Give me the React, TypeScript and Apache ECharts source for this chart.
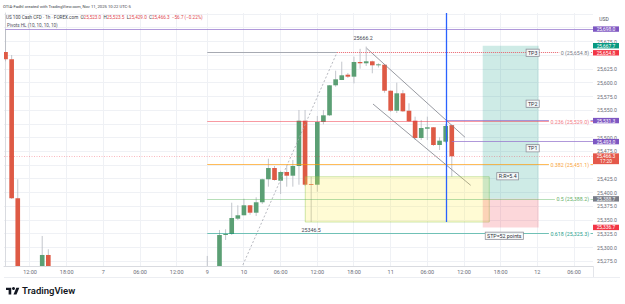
import React, { useEffect, useRef } from "react";
import * as echarts from "echarts";

const FONT = 'Roboto, "Liberation Sans", Arial, sans-serif';

// ---- candle data (bar slot index on the trading-hours axis) ----
const barIndex = [0, 1, 2, 6, 7, 33, 35, 36, 37, 38, 39, 40, 41, 42, 43, 44, 45, 46, 47, 48, 49, 50, 51, 52, 53, 54, 55, 56, 57, 58, 59, 60, 61, 62, 63, 64, 65, 66, 67, 68, 69, 70, 71, 72, 73];
const barOpen = [25656.2, 25642.9, 25389.8, 25228.0, 25286.5, 25236.0, 25250.0, 25322.9, 25324.7, 25352.6, 25358.8, 25377.0, 25363.5, 25382.5, 25424.4, 25444.9, 25421.8, 25437.7, 25430.9, 25448.6, 25531.1, 25415.8, 25414.5, 25528.7, 25540.9, 25595.6, 25605.2, 25614.9, 25611.3, 25638.0, 25635.7, 25639.3, 25632.0, 25633.1, 25585.7, 25549.3, 25581.0, 25549.3, 25531.1, 25499.6, 25516.5, 25519.1, 25486.8, 25492.9, 25523.0];
const barHigh = [25698.0, 25650.8, 25424.4, 25321.1, 25296.9, 25284.7, 25332.0, 25333.3, 25381.7, 25377.0, 25389.0, 25377.5, 25391.6, 25425.5, 25461.9, 25448.6, 25440.0, 25448.6, 25459.5, 25550.6, 25550.6, 25429.1, 25539.7, 25550.6, 25596.0, 25622.2, 25638.6, 25618.0, 25647.7, 25662.0, 25666.2, 25640.5, 25635.7, 25634.0, 25586.5, 25600.3, 25586.9, 25562.8, 25538.4, 25532.4, 25538.4, 25519.5, 25500.9, 25525.1, 25523.5];
const barLow = [25639.3, 25388.5, 25170.0, 25215.0, 25232.0, 25225.0, 25244.0, 25313.8, 25322.9, 25350.2, 25358.8, 25359.9, 25357.5, 25379.4, 25410.9, 25421.8, 25397.6, 25410.9, 25410.9, 25414.5, 25412.0, 25346.5, 25401.8, 25524.5, 25539.7, 25593.0, 25605.2, 25609.0, 25599.2, 25625.8, 25630.7, 25617.5, 25628.0, 25582.1, 25547.0, 25545.1, 25547.2, 25528.7, 25496.0, 25496.0, 25496.0, 25485.0, 25477.7, 25491.0, 25429.0];
const barClose = [25642.9, 25389.8, 25190.0, 25286.5, 25240.0, 25248.0, 25322.9, 25324.7, 25353.9, 25358.8, 25377.0, 25363.5, 25382.5, 25424.4, 25444.9, 25423.1, 25437.7, 25430.9, 25448.6, 25531.1, 25414.5, 25414.5, 25528.7, 25540.9, 25595.6, 25606.5, 25613.8, 25611.3, 25638.0, 25635.7, 25639.3, 25632.0, 25633.8, 25585.7, 25549.3, 25581.0, 25548.2, 25530.0, 25499.6, 25517.8, 25519.1, 25486.8, 25494.7, 25521.4, 25466.3];

// ---- axes ----
const xTickIndex = [4, 10, 16, 22, 28, 33, 39, 45, 51, 57, 63, 69, 75, 81, 87, 93];
const xTickLabels = ["12:00", "18:00", "7", "06:00", "12:00", "9", "10", "06:00", "12:00", "18:00", "11", "06:00", "12:00", "18:00", "12", "06:00"];
const yGridValues = [25275, 25300, 25325, 25350, 25375, 25400, 25425, 25450, 25475, 25500, 25525, 25550, 25575, 25600, 25625, 25650, 25675, 25700, 25725];
// labels that are not hidden behind the coloured price tags
const yLabelValues = [25275, 25300, 25325, 25350, 25375, 25400, 25425, 25475, 25500, 25550, 25575, 25600, 25625, 25675];

// ---- fibonacci retracement ----
const fibLevels = ["0", "0.236", "0.382", "0.5", "0.618"];
const fibPrices = [25654.8, 25529.0, 25451.1, 25388.2, 25325.3];
const fibOnePrice = 25121.8;
const fibStartIndex = 33;
const fibEndIndex = 54.2;

// ---- pivots HL ----
const pivotPrices = [25698.0, 25531.3, 25493.0];
const pivotStart = [0, 72.17, 73];

// ---- drawings ----
const channelUpper = [[59.08, 25663.0], [75.16, 25500.9]];
const channelLower = [[60.11, 25561.5], [76.09, 25413.4]];
const zoneIndex = [49.03, 79.13];
const zonePrices = [25429.0, 25346.5];
const blueLineIndex = 72.17;
const positionIndex = [78.06, 87.22];
const targetPrice = 25667.7;
const entryPrice = 25388.7;
const stopPrice = 25336.7;
const noteTexts = ["TP3", "TP2", "TP1", "R:R=5.4", "STP=52 points"];
const noteIndex = [86.23, 86.23, 86.23, 82.14, 81.59];
const notePrices = [25654.8, 25562.1, 25480.8, 25429.8, 25321.6];
const lastPrice = 25466.3;
const hiLabel = { index: 58.5, price: 25666.2 };
const loLabel = { index: 50, price: 25346.5 };

const UP = "#5b9f74";
const DOWN = "#de5a45";
const WICK = "#b4b7bf";

const fmt = (v: number) =>
  v.toLocaleString("en-US", { minimumFractionDigits: 1, maximumFractionDigits: 1 });

export default function App() {
  const ref = useRef<HTMLDivElement>(null);
  useEffect(() => {
    const el = ref.current!;
    const chart = echarts.init(el, null, { renderer: "svg" });
    const X_MIN = -0.25, X_MAX = 96.1, Y_MIN = 25266.4, Y_MAX = 25727.3;
    const data = barIndex.map((x, i) => [x, barOpen[i], barClose[i], barLow[i], barHigh[i]]);

    chart.setOption({
      animation: false,
      backgroundColor: "#ffffff",
      textStyle: { fontFamily: FONT },
      grid: { left: 4, right: 32, top: 13, bottom: 38 },
      xAxis: {
        type: "value",
        min: X_MIN,
        max: X_MAX,
        axisLine: { show: true, lineStyle: { color: "#d9dbe0" } },
        axisTick: { show: false, customValues: xTickIndex },
        splitLine: { show: false },
        axisLabel: {
          customValues: xTickIndex,
          formatter: (v: number) => {
            const k = xTickIndex.indexOf(Math.round(v));
            return k >= 0 ? xTickLabels[k] : "";
          },
          color: "#6a6d78",
          fontSize: 5.5,
          fontFamily: FONT,
          margin: 3,
        },
      },
      yAxis: {
        type: "value",
        position: "right",
        min: Y_MIN,
        max: Y_MAX,
        axisLine: { show: true, lineStyle: { color: "#d9dbe0" } },
        axisTick: { show: false, customValues: yLabelValues },
        splitLine: { show: false },
        axisLabel: {
          customValues: yLabelValues,
          formatter: (v: number) => fmt(v),
          color: "#6a6d78",
          fontSize: 5.2,
          lineHeight: 4.6,
          fontFamily: FONT,
          margin: 4,
        },
      },
      series: [
        {
          type: "custom",
          name: "candles",
          clip: true,
          z: 3,
          data,
          encode: { x: 0, y: [1, 2, 3, 4] },
          renderItem: (params: any, api: any) => {
            const x = api.value(0), o = api.value(1), c = api.value(2), l = api.value(3), h = api.value(4);
            const pO = api.coord([x, o]);
            const pC = api.coord([x, c]);
            const pL = api.coord([x, l]);
            const pH = api.coord([x, h]);
            const bw = api.size([1, 0])[0] * 0.76;
            const col = c >= o ? UP : DOWN;
            const top = Math.min(pO[1], pC[1]);
            const hh = Math.max(Math.abs(pO[1] - pC[1]), 0.8);
            return {
              type: "group",
              children: [
                { type: "line", shape: { x1: pO[0], y1: pH[1], x2: pO[0], y2: pL[1] }, style: { stroke: WICK, lineWidth: 0.8 } },
                { type: "rect", shape: { x: pO[0] - bw / 2, y: top, width: bw, height: hh }, style: { fill: col } },
              ],
            };
          },
        },
        {
          type: "line",
          data: [[fibStartIndex, fibOnePrice], [fibEndIndex, fibPrices[0]]],
          symbol: "none",
          silent: true,
          z: 6,
          lineStyle: { color: "#a3a6ae", width: 0.8, type: [2, 2] },
        },
        {
          type: "line",
          data: channelUpper,
          symbol: "none",
          silent: true,
          z: 6,
          lineStyle: { color: "#7d8089", width: 0.8 },
        },
        {
          type: "line",
          data: channelLower,
          symbol: "none",
          silent: true,
          z: 6,
          lineStyle: { color: "#7d8089", width: 0.8 },
        },
      ],
    });

    const P = (x: number, v: number) => chart.convertToPixel({ gridIndex: 0 }, [x, v]) as number[];
    const gx = (x: number) => P(x, Y_MIN)[0];
    const gy = (v: number) => P(X_MIN, v)[1];
    const L = gx(X_MIN), R = gx(X_MAX), T = gy(Y_MAX), B = gy(Y_MIN);
    const cr = (v: number) => Math.round(v - 0.5) + 0.5;

    const els: any[] = [];
    const hline = (x1: number, x2: number, y: number, stroke: string, z: number, extra: any = {}) =>
      els.push({ type: "line", silent: true, z, shape: { x1, y1: cr(y), x2, y2: cr(y) }, style: { stroke, lineWidth: 1, ...extra } });
    const vline = (x: number, y1: number, y2: number, stroke: string, z: number, extra: any = {}) =>
      els.push({ type: "line", silent: true, z, shape: { x1: cr(x), y1, x2: cr(x), y2 }, style: { stroke, lineWidth: 1, ...extra } });

    // grid
    yGridValues.forEach((v) => hline(L, R, gy(v), "#eff1f5", 0));
    xTickIndex.forEach((i) => vline(gx(i), T, B, "#eff1f5", 0));
    // frame of the time scale row
    vline(R, B, B + 11.5, "#e3e5ea", 1);
    hline(L, R + 27, B + 11.5, "#eceef2", 1);

    // last price line
    hline(L, R, gy(lastPrice), "rgba(242,54,69,0.35)", 9, { lineDash: [1, 1.5] });

    // pivots
    pivotPrices.forEach((p, k) => hline(gx(pivotStart[k]), R, gy(p), "rgba(149,117,205,0.75)", 9));

    // fib
    const fibLine = ["#a7aab2", "rgba(242,54,69,0.5)", "rgba(255,152,0,0.65)", "rgba(76,175,80,0.4)", "rgba(8,153,129,0.55)"];
    const fibText = ["#787b86", "#f27a85", "#f7a43c", "#66b06a", "#27a08c"];
    fibPrices.forEach((p, k) => {
      hline(gx(fibStartIndex), k === 0 ? gx(fibEndIndex) : R, gy(p), fibLine[k], 9);
    });
    // TP3 dotted line
    hline(gx(fibEndIndex), R, gy(fibPrices[0]), "#e8606b", 9, { lineDash: [1, 1] });
    fibPrices.forEach((p, k) => {
      els.push({
        type: "text", silent: true, z: 12,
        x: R - 2.5, y: gy(p),
        style: {
          text: `${fibLevels[k]} (${fmt(p)})`, fill: fibText[k], font: `5.3px ${FONT}`,
          align: "right", verticalAlign: "middle", backgroundColor: "#ffffff", padding: [0, 1.5],
        },
      });
    });

    // yellow zone
    els.push({
      type: "rect", silent: true, z: 7,
      shape: { x: gx(zoneIndex[0]), y: gy(zonePrices[0]), width: gx(zoneIndex[1]) - gx(zoneIndex[0]), height: gy(zonePrices[1]) - gy(zonePrices[0]) },
      style: { fill: "rgba(255,235,59,0.22)", stroke: "rgba(139,195,74,0.55)", lineWidth: 0.8 },
    });

    // long position
    const px1 = gx(positionIndex[0]), px2 = gx(positionIndex[1]);
    els.push({
      type: "rect", silent: true, z: 7,
      shape: { x: px1, y: gy(targetPrice), width: px2 - px1, height: gy(entryPrice) - gy(targetPrice) },
      style: { fill: "rgba(8,153,129,0.2)" },
    });
    els.push({
      type: "rect", silent: true, z: 7,
      shape: { x: px1, y: gy(entryPrice), width: px2 - px1, height: gy(stopPrice) - gy(entryPrice) },
      style: { fill: "rgba(242,54,69,0.2)" },
    });

    // blue vertical line
    vline(gx(blueLineIndex), T, gy(zonePrices[1]), "#2962ff", 11, { lineWidth: 1.3 });

    // notes
    noteTexts.forEach((t, k) => {
      els.push({
        type: "text", silent: true, z: 13,
        x: gx(noteIndex[k]), y: gy(notePrices[k]),
        style: {
          text: t, fill: "#2a2e39", font: `5.3px ${FONT}`, align: "center", verticalAlign: "middle",
          backgroundColor: "rgba(255,255,255,0.85)", borderColor: "#8a8d96", borderWidth: 0.7, padding: [1, 1.5, 0.5, 1.5],
        },
      });
    });

    // high/low labels
    els.push({
      type: "text", silent: true, z: 13, x: gx(hiLabel.index), y: gy(hiLabel.price) - 9,
      style: { text: String(hiLabel.price), fill: "#434651", font: `5.3px ${FONT}`, align: "center", verticalAlign: "middle" },
    });
    els.push({
      type: "text", silent: true, z: 13, x: gx(loLabel.index), y: gy(loLabel.price) + 8,
      style: { text: String(loLabel.price), fill: "#434651", font: `5.3px ${FONT}`, align: "center", verticalAlign: "middle" },
    });

    // price axis tags
    const tagPrices = [pivotPrices[0], targetPrice, fibPrices[0], pivotPrices[1], pivotPrices[2], entryPrice, stopPrice];
    const tagColors = ["#7e57c2", "#089981", "#f23645", "#7e57c2", "#7e57c2", "#787b86", "#f23645"];
    tagPrices.forEach((p, k) => {
      const y = gy(p);
      els.push({ type: "rect", silent: true, z: 50, shape: { x: R, y: y - 2.7, width: 26, height: 5.4 }, style: { fill: tagColors[k] } });
      els.push({
        type: "text", silent: true, z: 51, x: R + 13, y,
        style: { text: fmt(p), fill: "#ffffff", font: `4.9px ${FONT}`, lineHeight: 4.4, align: "center", verticalAlign: "middle" },
      });
    });
    {
      const y = gy(lastPrice);
      els.push({ type: "rect", silent: true, z: 50, shape: { x: R, y: y - 2.9, width: 26, height: 10.8 }, style: { fill: "#e4584a" } });
      els.push({ type: "text", silent: true, z: 51, x: R + 13, y, style: { text: fmt(lastPrice), fill: "#fff", font: `4.9px ${FONT}`, lineHeight: 4.4, align: "center", verticalAlign: "middle" } });
      els.push({ type: "text", silent: true, z: 51, x: R + 13, y: y + 5, style: { text: "17:20", fill: "#fff", font: `4.9px ${FONT}`, lineHeight: 4.4, align: "center", verticalAlign: "middle" } });
    }

    // USD label
    els.push({
      type: "text", silent: true, z: 20, x: R + 11, y: 19,
      style: { text: "USD", fill: "#50535e", font: `5px ${FONT}`, align: "center", verticalAlign: "middle" },
    });

    // header + legend
    els.push({ type: "text", silent: true, z: 20, x: 3, y: 6, style: { text: "OTIA-Fadhl created with TradingView.com, Nov 11, 2025 10:22 UTC-5", fill: "#3b3e48", font: `4.2px ${FONT}`, verticalAlign: "middle" } });
    els.push({
      type: "text", silent: true, z: 20, x: 6, y: 17,
      style: {
        text: "{n|US 100 Cash CFD · 1h · FOREX.com}  {k|O}{v|25,523.0}  {k|H}{v|25,523.5}  {k|L}{v|25,429.0}  {k|C}{v|25,466.3}  {v|−56.7 (−0.22%)}",
        font: `4.6px ${FONT}`, verticalAlign: "middle",
        rich: {
          n: { fill: "#3b3e48", font: `4.6px ${FONT}` },
          k: { fill: "#3b3e48", font: `4.6px ${FONT}` },
          v: { fill: "#e0474f", font: `4.6px ${FONT}` },
        },
      },
    });
    els.push({ type: "text", silent: true, z: 20, x: 7, y: 25.5, style: { text: "Pivots HL (10, 10, 10, 10)", fill: "#50535e", font: `4.6px ${FONT}`, verticalAlign: "middle" } });

    // TradingView logo
    const s = 0.375, ox = 6, oy = 285.5;
    const tp = (pts: number[][]) => pts.map(([a, b]) => [ox + a * s, oy + b * s]);
    els.push({ type: "polygon", silent: true, z: 20, shape: { points: tp([[0, 6], [14, 6], [14, 24], [7, 24], [7, 12], [0, 12]]) }, style: { fill: "#131722" } });
    els.push({ type: "circle", silent: true, z: 20, shape: { cx: ox + 20 * s, cy: oy + 8 * s, r: 4 * s }, style: { fill: "#131722" } });
    els.push({ type: "polygon", silent: true, z: 20, shape: { points: tp([[28, 24], [20, 24], [27.5, 6], [35.5, 6]]) }, style: { fill: "#131722" } });
    els.push({ type: "text", silent: true, z: 20, x: 22, y: 290.5, style: { text: "TradingView", fill: "#131722", font: `600 9.5px ${FONT}`, verticalAlign: "middle" } });

    chart.setOption({ graphic: { elements: els } });
    return () => chart.dispose();
  }, []);
  return <div ref={ref} style={{ position: "absolute", left: 0, top: 0, width: 625, height: 304 }} />;
}
